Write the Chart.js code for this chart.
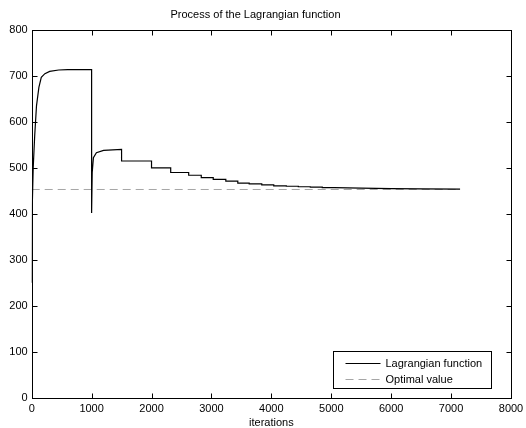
<!DOCTYPE html>
<html>
<head>
<meta charset="utf-8">
<script src="https://cdn.jsdelivr.net/npm/chart.js@4/dist/chart.umd.min.js"></script>
<style>
  html, body { margin: 0; padding: 0; background: #fff; }
  #wrap { width: 526px; height: 428px; }
  canvas { display: block; }
</style>
</head>
<body>
<div id="wrap"><canvas id="c" width="526" height="428"></canvas></div>
<script>
// ------------------------------------------------------------------
// DATA
// ------------------------------------------------------------------
const lagIter = [
  0, 10, 25, 50, 80, 120, 160, 220, 300, 450, 600, 1000,
  1000, 1010, 1030, 1080, 1200, 1500,
  1500, 2000, 2000, 2320, 2320, 2620, 2620, 2830, 2830, 3030,
  3030, 3240, 3240, 3440, 3440, 3630, 3630, 3840, 3840, 4040,
  4040, 4250, 4250, 4450, 4450, 4650, 4650, 4850, 4850, 5050,
  5500, 6000, 6500, 7150
];
const lagValue = [
  250, 420, 500, 570, 635, 675, 697, 705, 710, 713, 714, 714,
  402, 490, 522, 533, 538, 540,
  515, 515, 500, 500, 490, 490, 484, 484, 479, 479,
  475, 475, 471, 471, 467, 467, 465, 465, 463, 463,
  461, 461, 460, 460, 459, 459, 458, 458, 457, 457,
  456, 455, 454.5, 454
];

const optIter = [0, 7150];
const optValue = [453, 453];

const xTicks = [0, 1000, 2000, 3000, 4000, 5000, 6000, 7000, 8000];
const yTicks = [0, 100, 200, 300, 400, 500, 600, 700, 800];

const FONT = "'Liberation Sans', Arial, Helvetica, sans-serif";

// ------------------------------------------------------------------
// PLUGINS: matlab-like box, inward ticks, legend
// ------------------------------------------------------------------
const boxPlugin = {
  id: "box",
  afterDatasetsDraw(chart) {
    const { ctx, chartArea: a, scales } = chart;
    ctx.save();
    ctx.strokeStyle = "#000";
    ctx.lineWidth = 1;
    const L = Math.round(a.left) + 0.5, R = Math.round(a.right) + 0.5;
    const T = Math.round(a.top) + 0.5, B = Math.round(a.bottom) + 0.5;
    ctx.strokeRect(L, T, R - L, B - T);
    const len = 5;
    ctx.beginPath();
    xTicks.forEach(v => {
      const x = Math.round(scales.x.getPixelForValue(v)) + 0.5;
      ctx.moveTo(x, B); ctx.lineTo(x, B - len);
      ctx.moveTo(x, T); ctx.lineTo(x, T + len);
    });
    yTicks.forEach(v => {
      const y = Math.round(scales.y.getPixelForValue(v)) + 0.5;
      ctx.moveTo(L, y); ctx.lineTo(L + len, y);
      ctx.moveTo(R, y); ctx.lineTo(R - len, y);
    });
    ctx.stroke();

    // legend
    const lx = 333.5, ly = 351.5, lw = 158, lh = 37;
    ctx.fillStyle = "#fff";
    ctx.fillRect(lx, ly, lw, lh);
    ctx.strokeRect(lx, ly, lw, lh);
    chart.data.datasets.forEach((d, i) => {
      const y = Math.round(ly + 11 + i * 16.5) + 0.5;
      ctx.beginPath();
      ctx.strokeStyle = d.borderColor;
      ctx.lineWidth = 1;
      ctx.setLineDash(d.borderDash || []);
      ctx.moveTo(lx + 12, y);
      ctx.lineTo(lx + 47, y);
      ctx.stroke();
      ctx.setLineDash([]);
      ctx.fillStyle = "#000";
      ctx.font = "11px " + FONT;
      ctx.textBaseline = "middle";
      ctx.textAlign = "left";
      ctx.fillText(d.label, lx + 52, y);
    });
    ctx.restore();
  }
};

// ------------------------------------------------------------------
// CHART
// ------------------------------------------------------------------
new Chart(document.getElementById("c"), {
  type: "line",
  data: {
    datasets: [
      {
        label: "Lagrangian function",
        data: lagIter.map((x, i) => ({ x, y: lagValue[i] })),
        borderColor: "#000",
        borderWidth: 1.2,
        pointRadius: 0,
        tension: 0,
        fill: false
      },
      {
        label: "Optimal value",
        data: optIter.map((x, i) => ({ x, y: optValue[i] })),
        borderColor: "#a6a6a6",
        borderWidth: 1,
        borderDash: [8, 5],
        pointRadius: 0,
        fill: false
      }
    ]
  },
  options: {
    responsive: false,
    animation: false,
    devicePixelRatio: 1,
    layout: { padding: { top: 0, right: 15, left: 0, bottom: 0 } },
    plugins: {
      legend: { display: false },
      tooltip: { enabled: false },
      title: {
        display: true,
        text: "Process of the Lagrangian function",
        color: "#000",
        font: { family: FONT, size: 11, weight: "normal", lineHeight: 1.2 },
        padding: { top: 8, bottom: 8.8 }
      }
    },
    scales: {
      x: {
        type: "linear",
        min: 0, max: 8000,
        afterBuildTicks: s => { s.ticks = xTicks.map(v => ({ value: v })); },
        afterFit: s => { s.height = 30.3; s.paddingLeft = 0; s.paddingRight = 0; },
        grid: { display: false, drawTicks: false },
        border: { display: false },
        ticks: {
          color: "#000",
          padding: 5,
          maxRotation: 0,
          font: { family: FONT, size: 11 },
          callback: v => String(v)
        },
        title: {
          display: true,
          text: "iterations",
          color: "#000",
          padding: { top: 0, bottom: 0 },
          font: { family: FONT, size: 11, lineHeight: 1 }
        }
      },
      y: {
        type: "linear",
        min: 0, max: 800,
        afterBuildTicks: s => { s.ticks = yTicks.map(v => ({ value: v })); },
        afterFit: s => { s.width = 31.7; s.paddingTop = 0; s.paddingBottom = 0; },
        grid: { display: false, drawTicks: false },
        border: { display: false },
        ticks: {
          color: "#000",
          padding: 4,
          font: { family: FONT, size: 11 },
          callback: v => String(v)
        }
      }
    }
  },
  plugins: [boxPlugin]
});
</script>
</body>
</html>
